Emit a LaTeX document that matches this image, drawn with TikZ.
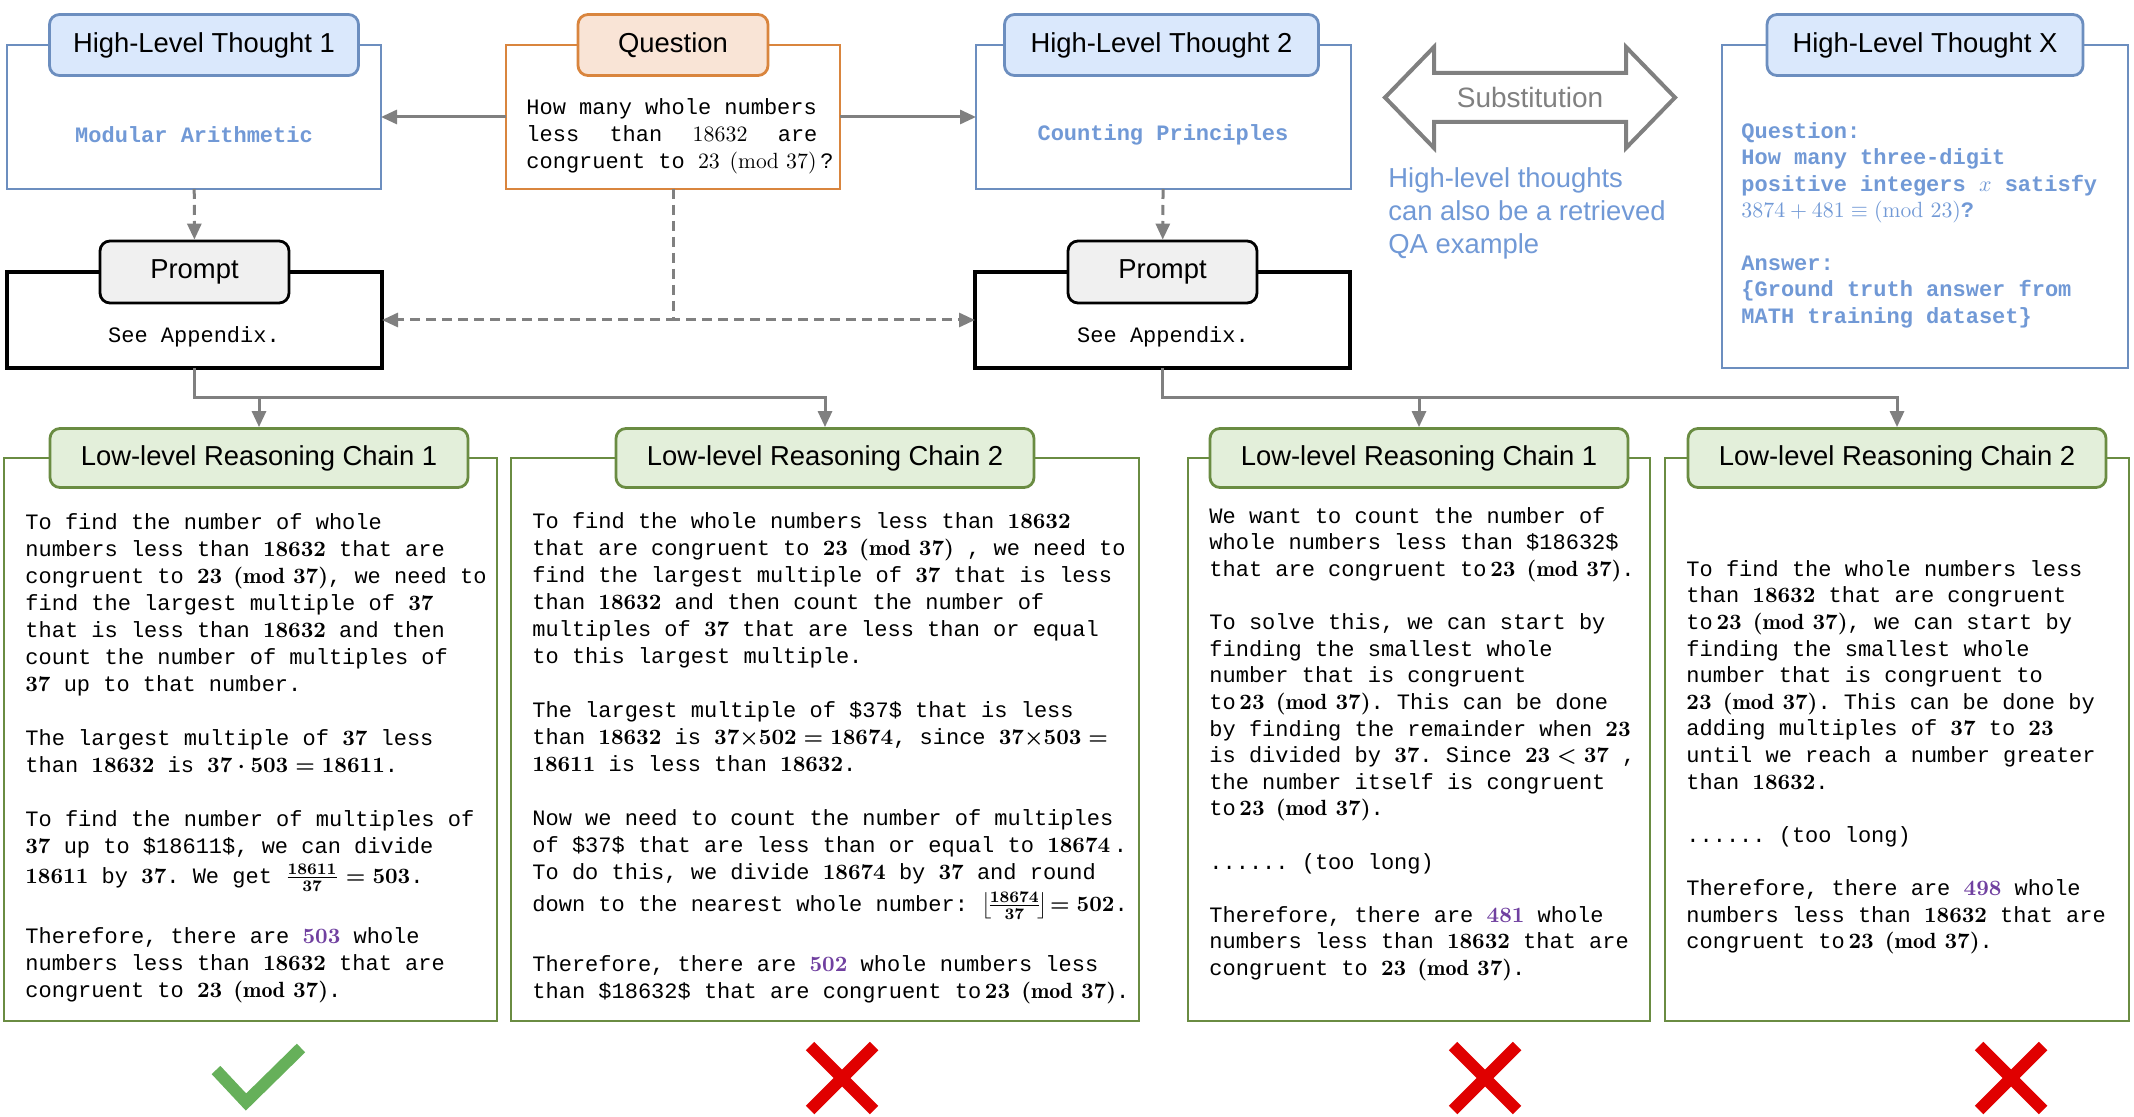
\documentclass[tikz,border=0pt]{standalone}
\usepackage{amsmath}
\usepackage{fontspec}
\setsansfont{Liberation Sans}
\setmonofont{Liberation Mono}
\usetikzlibrary{arrows.meta,fit}

\definecolor{thoughtblue}{HTML}{6C8EBF}
\definecolor{thoughtfill}{HTML}{DAE8FC}
\definecolor{thoughttext}{HTML}{7199D6}
\definecolor{askorange}{HTML}{D9853E}
\definecolor{askfill}{HTML}{F9E4D6}
\definecolor{chaingreen}{HTML}{6A8C42}
\definecolor{chainfill}{HTML}{E3EFDA}
\definecolor{promptfill}{HTML}{F0F0F0}
\definecolor{linkgray}{HTML}{808080}
\definecolor{answerpurple}{HTML}{7040A0}
\definecolor{rightgreen}{HTML}{66B05A}
\definecolor{wrongred}{HTML}{E00000}

\newcommand{\nb}[1]{{\boldmath$#1$}}
\newcommand{\ans}[1]{\textcolor{answerpurple}{\nb{#1}}}

\begin{document}
\begin{tikzpicture}[x=0.5pt,y=-0.5pt,>={Triangle[length=8pt,width=7pt]},
    plain box/.style={draw,fill=white,inner sep=0pt,outer sep=0pt,line width=1.3pt},
    thought box/.style={plain box,draw=thoughtblue},
    ask box/.style={plain box,draw=askorange},
    prompt box/.style={plain box,draw=black,line width=2pt},
    chain box/.style={plain box,draw=chaingreen},
    label tab/.style={draw,rounded corners=5pt,line width=1.4pt,minimum height=30.5pt,
      font=\sffamily\fontsize{13.7}{16}\selectfont},
    thought tab/.style={label tab,draw=thoughtblue,fill=thoughtfill},
    ask tab/.style={label tab,draw=askorange,fill=askfill},
    prompt tab/.style={label tab,draw=black,fill=promptfill,minimum height=31pt,minimum width=94.5pt},
    chain tab/.style={label tab,draw=chaingreen,fill=chainfill,minimum height=29.5pt,minimum width=209pt},
    mono/.style={inner sep=0pt,align=left,font=\ttfamily\fontsize{11}{13.3}\selectfont},
    chain text/.style={mono,anchor=north west},
    wide text/.style={chain text,font=\ttfamily\fontsize{11}{13.5}\selectfont},
    topic/.style={inner sep=0pt,text=thoughttext,font=\ttfamily\bfseries\fontsize{11}{13.3}\selectfont},
    link/.style={draw=linkgray,line width=1.5pt,->},
    dash link/.style={link,dash pattern=on 5pt off 3pt}]
  \useasboundingbox (0,0) rectangle (2134,1117);

  \node[thought box,fit={(7,45)(381,189)}] (h1) {};
  \node[ask box,fit={(506,45)(840,189)}] (q) {};
  \node[thought box,fit={(976,45)(1351,189)}] (h2) {};
  \node[thought box,fit={(1722,45)(2128,368)}] (hx) {};
  \node[prompt box,fit={(7,272)(382,368)}] (p1) {};
  \node[prompt box,fit={(975,272)(1350,368)}] (p2) {};
  \node[chain box,fit={(4,458)(497,1021)}] (c1) {};
  \node[chain box,fit={(511,458)(1139,1021)}] (c2) {};
  \node[chain box,fit={(1188,458)(1650,1021)}] (c3) {};
  \node[chain box,fit={(1665,458)(2129,1021)}] (c4) {};

  \node[thought tab,minimum width=154.5pt] (h1t) at ([xshift=5pt]h1.north) {High-Level Thought 1};
  \node[ask tab,minimum width=95pt] (qt) at (q.north) {Question};
  \node[thought tab,minimum width=157pt] (h2t) at ([xshift=-1pt]h2.north) {High-Level Thought 2};
  \node[thought tab,minimum width=158pt] (hxt) at (hx.north) {High-Level Thought X};
  \node[prompt tab] (p1t) at (p1.north) {Prompt};
  \node[prompt tab] (p2t) at (p2.north) {Prompt};
  \node[chain tab] (c1t) at ([xshift=4.25pt]c1.north) {Low-level Reasoning Chain 1};
  \node[chain tab] (c2t) at (c2.north) {Low-level Reasoning Chain 2};
  \node[chain tab] (c3t) at (c3.north) {Low-level Reasoning Chain 1};
  \node[chain tab] (c4t) at (c4.north) {Low-level Reasoning Chain 2};

  \node[topic] (h1x) at (194,135) {Modular Arithmetic};
  \node[topic] (h2x) at (1163,135) {Counting Principles};
  \node[mono] (p1x) at (194,337) {See Appendix.};
  \node[mono] (p2x) at (1163,337) {See Appendix.};

  \node[wide text] (qx) at (526,98) {How many whole numbers\\
\hbox to 145.5pt{less\hfill than\hfill$18632$\hfill are}\\
congruent to $23\pmod{37}$\,?};

  \node[chain text,text=thoughttext,font=\ttfamily\bfseries\fontsize{11}{13.2}\selectfont] (hxx) at (1741,122) {Question:\\
How many three-digit\\
positive integers $x$ satisfy\\
$3874+481\equiv(\operatorname{mod}\,23)$?\\[13.2pt]
Answer:\\
\{Ground truth answer from\\
MATH training dataset\}};

  \draw[linkgray,line width=2pt,line join=miter,fill=white] (1385,97.5) -- (1434,47) -- (1434,73)
    -- (1626,73) -- (1626,47) -- (1675,97.5) -- (1626,148) -- (1626,122) -- (1434,122)
    -- (1434,148) -- cycle;
  \node[text=linkgray,font=\sffamily\fontsize{14}{16}\selectfont] (sub) at (1530,97.5) {Substitution};
  \node[anchor=north west,inner sep=0pt,align=left,text=thoughttext,
    font=\sffamily\fontsize{13.7}{16.5}\selectfont] (note) at (1388,167) {High-level thoughts\\
can also be a retrieved\\
QA example};

  \node[wide text] (c1x) at (25,513) {To find the number of whole\\
numbers less than \nb{18632} that are\\
congruent to \nb{23\pmod{37}}, we need to\\
find the largest multiple of \nb{37}\\
that is less than \nb{18632} and then\\
count the number of multiples of\\
\nb{37} up to that number.\\[13.5pt]
The largest multiple of \nb{37} less\\
than \nb{18632} is \nb{37\cdot503=18611}.\\[13.5pt]
To find the number of multiples of\\
\nb{37} up to \$18611\$, we can divide\\[1.5pt]
\nb{18611} by \nb{37}. We get \nb{\frac{18611}{37}=503}.\\[16.5pt]
Therefore, there are \ans{503} whole\\
numbers less than \nb{18632} that are\\
congruent to \nb{23\pmod{37}}.};

  \node[wide text] (c2x) at (532,512) {To find the whole numbers less than \nb{18632}\\
that are congruent to \nb{23\pmod{37}} , we need to\\
find the largest multiple of \nb{37} that is less\\
than \nb{18632} and then count the number of\\
multiples of \nb{37} that are less than or equal\\
to this largest multiple.\\[13.5pt]
The largest multiple of \$37\$ that is less\\
than \nb{18632} is \nb{37{\times}502=18674}, since \nb{37{\times}503={}}\\
\nb{18611} is less than \nb{18632}.\\[13.5pt]
Now we need to count the number of multiples\\
of \$37\$ that are less than or equal to \nb{18674}\,.\\
To do this, we divide \nb{18674} by \nb{37} and round\\[2.5pt]
down to the nearest whole number: \nb{\left\lfloor\!\frac{18674}{37}\!\right\rfloor\!=502}.\\[16.5pt]
Therefore, there are \ans{502} whole numbers less\\
than \$18632\$ that are congruent to\,\nb{23\pmod{37}}.};

  \node[chain text] (c3x) at (1209,507) {We want to count the number of\\
whole numbers less than \$18632\$\\
that are congruent to\,\nb{23\pmod{37}}.\\[13.3pt]
To solve this, we can start by\\
finding the smallest whole\\
number that is congruent\\
to\,\nb{23\pmod{37}}. This can be done\\
by finding the remainder when \nb{23}\\
is divided by \nb{37}. Since \nb{23<37} ,\\
the number itself is congruent\\
to\,\nb{23\pmod{37}}.\\[13.3pt]
...... (too long)\\[13.3pt]
Therefore, there are \ans{481} whole\\
numbers less than \nb{18632} that are\\
congruent to \nb{23\pmod{37}}.};

  \node[chain text] (c4x) at (1686,560) {To find the whole numbers less\\
than \nb{18632} that are congruent\\
to\,\nb{23\pmod{37}}, we can start by\\
finding the smallest whole\\
number that is congruent to\\
\nb{23\pmod{37}}. This can be done by\\
adding multiples of \nb{37} to \nb{23}\\
until we reach a number greater\\
than \nb{18632}.\\[13.3pt]
...... (too long)\\[13.3pt]
Therefore, there are \ans{498} whole\\
numbers less than \nb{18632} that are\\
congruent to\,\nb{23\pmod{37}}.};

  \draw[link] (q) -- (h1);
  \draw[link] (q) -- (h2);
  \draw[dash link] (h1) -- (p1t);
  \draw[dash link] (h2) -- (p2t);
  \draw[dash link] (q) |- (p1);
  \draw[dash link] (q) |- (p2);

  \coordinate (j1) at (p1.south |- 0,397);
  \coordinate (j2) at (p2.south |- 0,397);
  \draw[link] (p1) -- (j1) -| (c1t);
  \draw[link] (j1) -| (c2t);
  \draw[link] (p2) -- (j2) -| (c3t);
  \draw[link] (j2) -| (c4t);

  \draw[rightgreen,line width=6pt] (216,1070) -- (246,1102) -- (301,1048);
  \foreach \cx in {842,1485,2011}
    \draw[wrongred,line width=6pt] (\cx-32,1046) -- (\cx+32,1110)
                                   (\cx+32,1046) -- (\cx-32,1110);
\end{tikzpicture}
\end{document}
